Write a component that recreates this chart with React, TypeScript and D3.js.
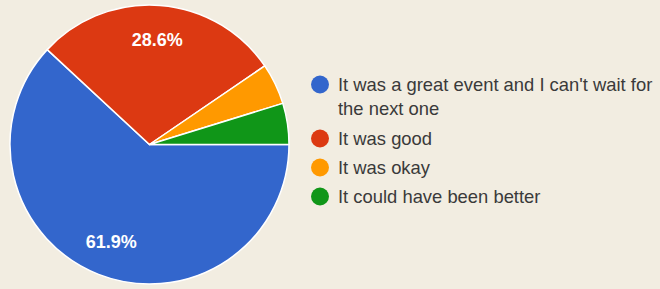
import React, { useEffect, useRef } from 'react';
import * as d3 from 'd3';

const categories = [
  'It was a great event and I can\'t wait for the next one',
  'It was good',
  'It was okay',
  'It could have been better',
];
const legendLines = [
  ['It was a great event and I can\'t wait for', 'the next one'],
  ['It was good'],
  ['It was okay'],
  ['It could have been better'],
];
const responses = [13, 6, 1, 1];
const colors = ['#3366cc', '#dc3912', '#ff9900', '#109618'];

const WIDTH = 660;
const HEIGHT = 289;

export default function App() {
  const ref = useRef<SVGSVGElement>(null);

  useEffect(() => {
    const svg = d3.select(ref.current);
    svg.selectAll('*').remove();

    const cx = 149.5, cy = 144.5, radius = 139.5;
    const total = d3.sum(responses);

    svg.append('rect')
      .attr('width', WIDTH)
      .attr('height', HEIGHT)
      .attr('fill', '#f2ede1');

    const pie = d3.pie<number>()
      .sort(null)
      .startAngle(Math.PI / 2)
      .endAngle(Math.PI / 2 + 2 * Math.PI);
    const arcs = pie(responses);

    const arc = d3.arc<d3.PieArcDatum<number>>().innerRadius(0).outerRadius(radius);
    const labelArc = d3.arc<d3.PieArcDatum<number>>().innerRadius(radius * 0.75).outerRadius(radius * 0.75);

    const g = svg.append('g').attr('transform', `translate(${cx},${cy})`);

    g.selectAll('path')
      .data(arcs)
      .join('path')
      .attr('d', arc)
      .attr('fill', (d, i) => colors[i])
      .attr('stroke', '#ffffff')
      .attr('stroke-width', 1.5);

    // only slices large enough get a percentage label
    g.selectAll('text')
      .data(arcs.filter(d => d.value / total > 0.1))
      .join('text')
      .attr('transform', d => `translate(${labelArc.centroid(d)})`)
      .attr('text-anchor', 'middle')
      .attr('dy', '0.35em')
      .attr('fill', '#ffffff')
      .attr('font-family', '"Liberation Sans", Arial, sans-serif')
      .attr('font-size', 18)
      .attr('font-weight', 'bold')
      .text(d => `${(d.value / total * 100).toFixed(1)}%`);

    // legend
    const legendY = [84.5, 138.5, 167.5, 196.5];
    const legend = svg.append('g');
    categories.forEach((c, i) => {
      const item = legend.append('g').attr('transform', `translate(320,${legendY[i]})`);
      item.append('circle')
        .attr('r', 9)
        .attr('fill', colors[i]);
      const text = item.append('text')
        .attr('x', 18)
        .attr('y', 6)
        .attr('fill', '#3a3a3a')
        .attr('font-family', '"Liberation Sans", Arial, sans-serif')
        .attr('font-size', 18.4);
      legendLines[i].forEach((line, j) => {
        text.append('tspan')
          .attr('x', 18)
          .attr('dy', j === 0 ? 0 : 24)
          .text(line);
      });
    });
  }, []);

  return (
    <div style={{ position: 'absolute', left: 0, top: 0 }}>
      <svg ref={ref} width={WIDTH} height={HEIGHT} style={{ display: 'block' }} />
    </div>
  );
}
